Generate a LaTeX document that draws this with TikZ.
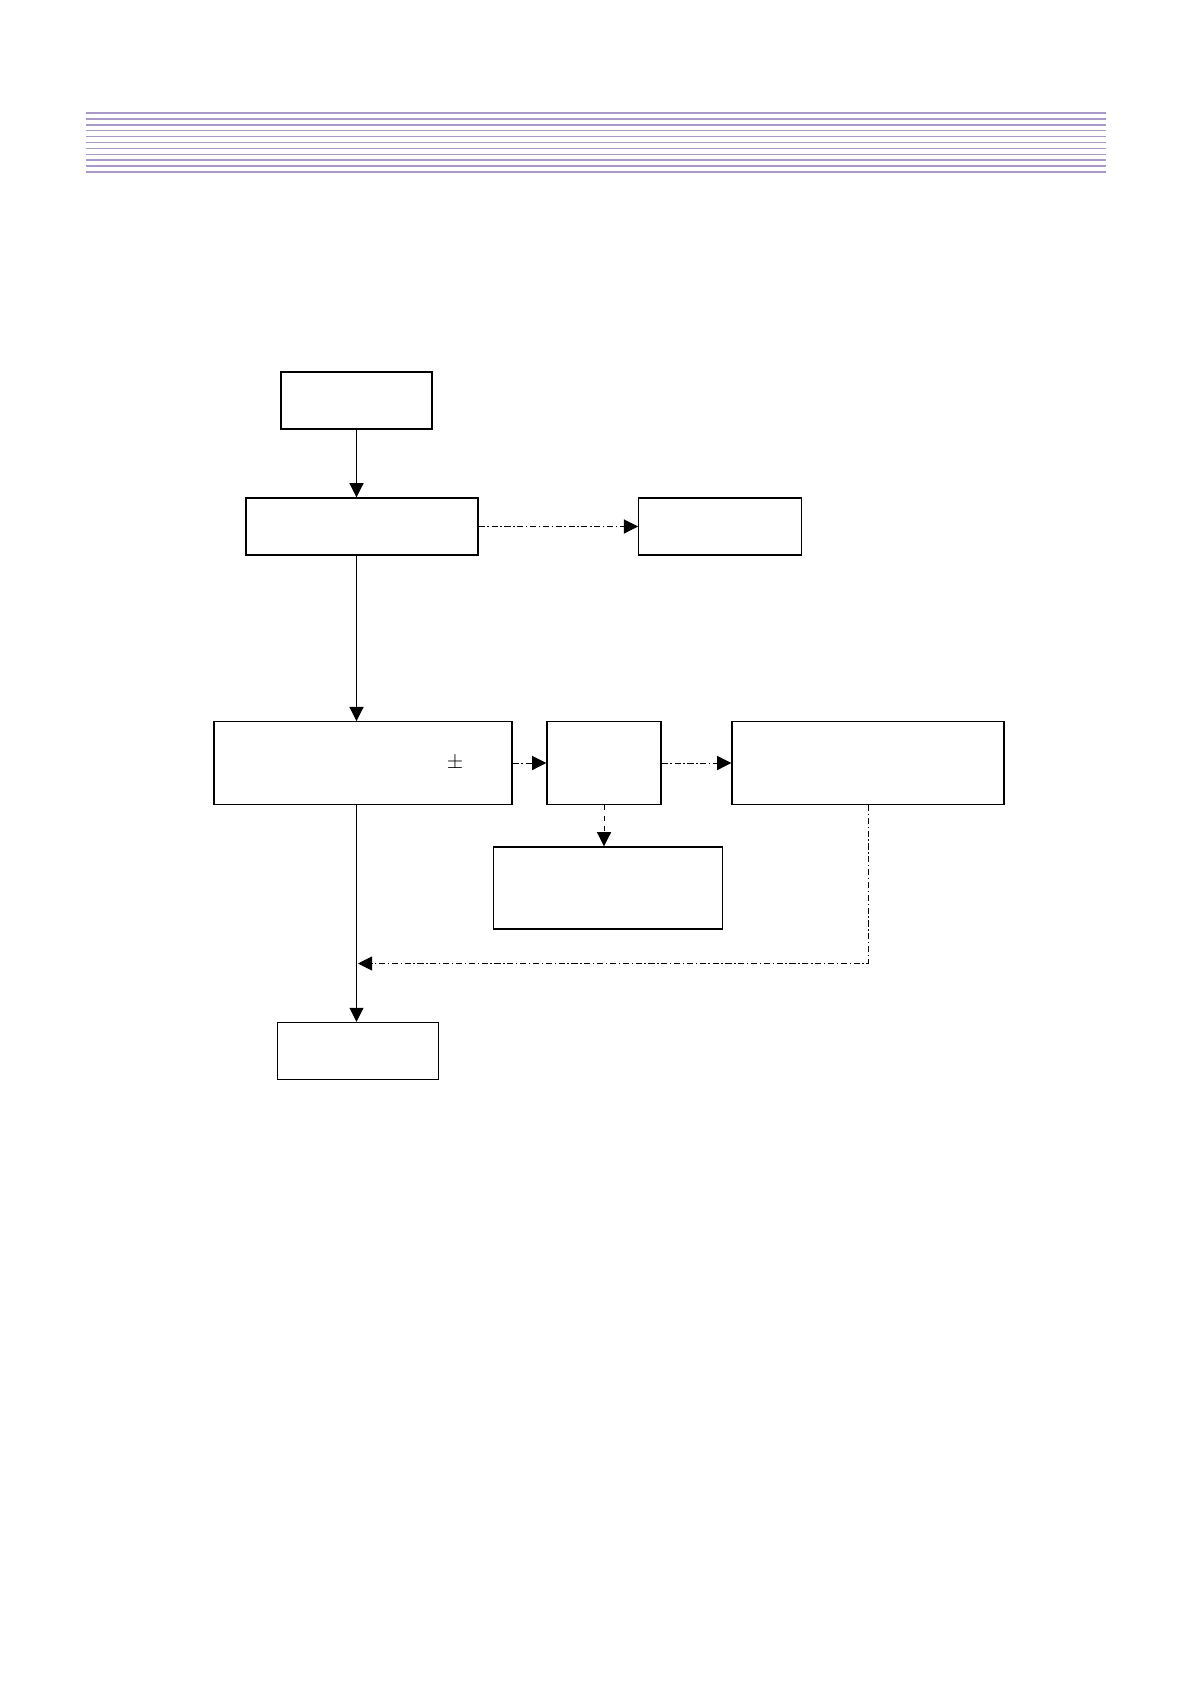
\documentclass[tikz,border=0pt]{standalone}
\usepackage{tikz}
\usetikzlibrary{positioning,arrows.meta}
\definecolor{rulecol}{RGB}{168,153,201}

\begin{document}
\begin{tikzpicture}[x=0.2mm,y=-0.2mm,
  box/.style={draw,line width=0.8pt,inner sep=0pt,minimum height=11.4mm},
  tallbox/.style={box,minimum height=16.5mm},
  >={Triangle[length=8pt,width=8pt]},
  dashdot/.style={dash pattern=on 3.5pt off 1.5pt on 0.8pt off 1.5pt}]
\useasboundingbox (0,0) rectangle (1191,1685);
% header rules
\draw[rulecol,line width=1.7pt] (86,113) -- (1106,113);
\draw[rulecol,line width=0.8pt] (86,118.9) -- (1106,118.9);
\draw[rulecol,line width=0.8pt] (86,124.8) -- (1106,124.8);
\draw[rulecol,line width=0.8pt] (86,130.7) -- (1106,130.7);
\draw[rulecol,line width=0.8pt] (86,136.6) -- (1106,136.6);
\draw[rulecol,line width=0.8pt] (86,142.5) -- (1106,142.5);
\draw[rulecol,line width=0.8pt] (86,148.4) -- (1106,148.4);
\draw[rulecol,line width=0.8pt] (86,154.3) -- (1106,154.3);
\draw[rulecol,line width=0.8pt] (86,160.2) -- (1106,160.2);
\draw[rulecol,line width=0.8pt] (86,166.1) -- (1106,166.1);
\draw[rulecol,line width=1.7pt] (86,172) -- (1106,172);
% boxes
\node[box,minimum width=30.2mm] (start) at (356.5,400.5) {};
\node[box,minimum width=46.4mm] (check) at (362,526.5) {};
\node[box,minimum width=32.5mm] (side) at (720,526.5) {};
\node[tallbox,minimum width=59.6mm] (test) at (363,763) {};
\node (pm) at (455,763) {\large$\pm$};
\node[tallbox,minimum width=22.8mm] (fail) at (604,763) {};
\node[tallbox,minimum width=54.4mm] (adjust) at (868,763) {};
\node[box,minimum width=45.8mm,minimum height=16.4mm] (reject) at (608,888) {};
\node[box,minimum width=32.2mm] (finish) at (358,1051) {};
\coordinate (merge) at (358,963.5);
% connectors
\draw[->,line width=0.5pt] (start.south) -- (start.south |- check.north);
\draw[->,line width=0.5pt,dashdot] (check.east) -- (side.west);
\draw[->,line width=0.5pt] (start.south |- check.south) -- (start.south |- test.north);
\draw[->,line width=0.5pt] (start.south |- test.south) -- (start.south |- finish.north);
\draw[->,line width=0.5pt,dashdot] (test.east) -- (fail.west);
\draw[->,line width=0.5pt,dashdot] (fail.east) -- (adjust.west);
\draw[->,line width=0.5pt,dashed] (fail.south) -- (fail.south |- reject.north);
\draw[->,line width=0.5pt,dashdot] (adjust.south) |- (merge);
\end{tikzpicture}
\end{document}
